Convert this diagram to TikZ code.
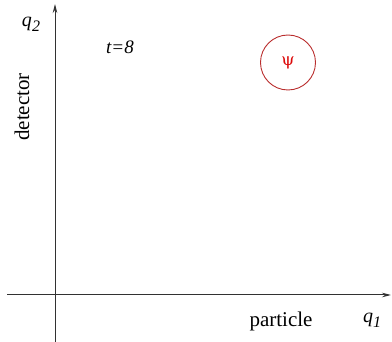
\documentclass[tikz,border=0pt]{standalone}
\usepackage{fontspec}
\newfontfamily\tms{LiberationSerif}[Extension=.ttf,UprightFont=*-Regular,ItalicFont=*-Italic]
\newfontfamily\grk{DejaVu Serif}
\usetikzlibrary{arrows.meta}
\definecolor{axisgray}{RGB}{50,50,50}
\definecolor{circred}{RGB}{185,45,45}
\definecolor{psired}{RGB}{220,10,10}
\begin{document}
\begin{tikzpicture}[x=1pt,y=-1pt,
  axis/.style={draw=axisgray,line width=1pt,-{Stealth[length=9pt,width=4.5pt]}},
  lbl/.style={inner sep=0pt,font=\tms\fontsize{21}{24}\selectfont},
  var/.style={inner sep=0pt,font=\tms\fontsize{20}{24}\selectfont\itshape}]
\useasboundingbox (0,0) rectangle (392,342);
\coordinate (ybot) at (55,342);
\coordinate (ytop) at (55,4);
\coordinate (xl) at (7,295);
\coordinate (xr) at (391,295);
\draw[axis] (ybot) -- (ytop);
\draw[axis] (xl) -- (xr);
\node[var] (q2) at (31,24) {q\raisebox{-0.5ex}{\fontsize{16}{18}\selectfont 2}};
\node[var] (q1) at (372,320) {q\raisebox{-0.5ex}{\fontsize{16}{18}\selectfont 1}};
\node[lbl,rotate=90] (det) at (22,107) {detector};
\node[lbl] (part) at (281,321) {particle};
\node[inner sep=0pt,font=\tms\fontsize{19}{22}\selectfont\itshape] (t) at (120,47) {t=8};
\node[draw=circred,line width=0.9pt,circle,minimum size=55pt,inner sep=0pt] (c) at (288,62.5) {};
\node[inner sep=0pt,text=psired,font=\grk\fontsize{17}{22}\selectfont] (psi) at (288,63) {ψ};
\end{tikzpicture}
\end{document}
